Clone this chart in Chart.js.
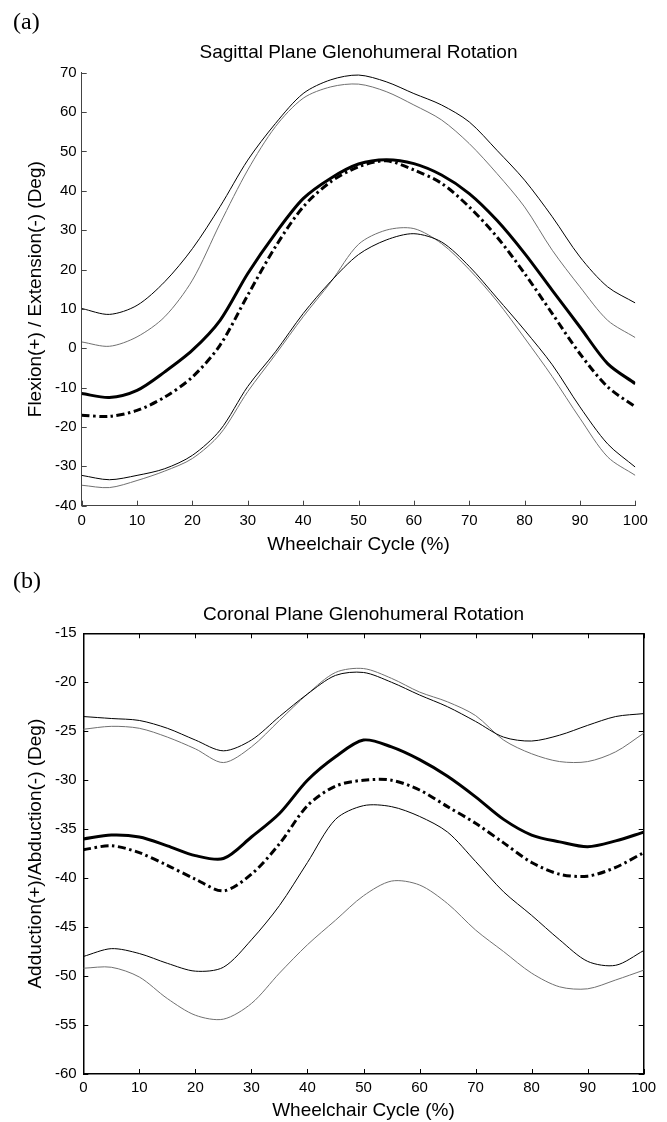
<!DOCTYPE html>
<html>
<head>
<meta charset="utf-8">
<script src="https://cdn.jsdelivr.net/npm/chart.js@4.4.1/dist/chart.umd.min.js"></script>
<style>
  body { margin: 0; background: #fff; }
  #wrap { position: relative; width: 667px; height: 1122px; overflow: hidden; }
  canvas { position: absolute; left: 0; }
  .panel {
    position: absolute; left: 13px;
    font: 24px "Liberation Serif", "Times New Roman", serif;
    line-height: 24px; color: #000;
  }
</style>
</head>
<body>
<div id="wrap">
  <canvas id="sagittal" width="667" height="560" style="top:0"></canvas>
  <canvas id="coronal" width="667" height="562" style="top:560px"></canvas>
  <div class="panel" style="top:9px">(a)</div>
  <div class="panel" style="top:568px">(b)</div>
</div>
<script>
/* ---------- DATA ---------- */
const cycle = [0, 5, 10, 15, 20, 25, 30, 35, 40, 45, 50, 55, 60, 65, 70, 75, 80, 85, 90, 95, 100];
const cycleTicks = [0, 10, 20, 30, 40, 50, 60, 70, 80, 90, 100];

// (a) sagittal plane
const sagTicks = [-40, -30, -20, -10, 0, 10, 20, 30, 40, 50, 60, 70];
const sagUpperBlack = [10.1, 8.6, 10.9, 16.9, 25.3, 36.0, 47.8, 57.1, 64.7, 68.2, 69.4, 67.7, 64.7, 61.8, 57.5, 50.3, 42.7, 33.4, 23.2, 15.6, 11.5];
const sagUpperGray = [1.6, 0.5, 2.9, 8.0, 17.3, 31.7, 45.3, 56.3, 63.5, 66.4, 67.1, 65.2, 61.8, 58.0, 52.0, 44.4, 35.9, 24.9, 15.6, 7.1, 2.7];
const sagMeanSolid = [-11.5, -12.5, -10.7, -6.0, -0.5, 7.1, 19.0, 29.2, 38.0, 43.2, 46.8, 47.9, 46.9, 44.0, 39.3, 32.5, 24.1, 14.7, 5.4, -3.9, -9.0];
const sagMeanDash = [-17.0, -17.3, -15.8, -12.4, -7.3, 0.8, 13.5, 25.8, 35.9, 42.3, 46.1, 47.6, 45.3, 41.9, 35.9, 28.3, 19.0, 8.8, -1.4, -9.8, -14.9];
const sagLowerBlack = [-32.3, -33.4, -32.3, -30.6, -27.2, -20.8, -9.7, -0.9, 8.8, 17.0, 23.8, 27.5, 29.1, 27.0, 20.8, 12.8, 4.6, -4.2, -14.9, -24.3, -30.2];
const sagLowerGray = [-34.8, -35.4, -33.6, -31.2, -28.0, -21.8, -11.0, -1.6, 8.0, 16.8, 26.4, 30.0, 30.4, 26.6, 20.0, 12.0, 2.6, -7.2, -17.8, -27.6, -32.3];

// (b) coronal plane
const corTicks = [-60, -55, -50, -45, -40, -35, -30, -25, -20, -15];
const corUpperBlack = [-23.5, -23.7, -23.9, -24.7, -25.9, -27.0, -25.9, -23.5, -21.2, -19.3, -19.0, -20.0, -21.3, -22.5, -24.0, -25.6, -26.0, -25.4, -24.4, -23.5, -23.2];
const corUpperGray = [-24.8, -24.5, -24.7, -25.6, -26.8, -28.2, -26.6, -23.9, -21.2, -19.0, -18.6, -19.6, -21.0, -22.0, -23.4, -25.9, -27.3, -28.1, -28.1, -27.1, -25.2];
const corMeanSolid = [-36.0, -35.6, -35.8, -36.7, -37.7, -38.0, -35.8, -33.4, -30.0, -27.6, -25.9, -26.6, -27.9, -29.6, -31.7, -34.0, -35.6, -36.3, -36.8, -36.2, -35.3];
const corMeanDash = [-37.1, -36.7, -37.4, -38.7, -40.1, -41.3, -39.6, -36.5, -32.6, -30.6, -30.0, -30.0, -31.0, -32.7, -34.4, -36.4, -38.4, -39.6, -39.8, -38.9, -37.4];
const corLowerBlack = [-48.0, -47.2, -47.7, -48.7, -49.5, -49.1, -46.3, -42.8, -38.4, -34.0, -32.6, -32.7, -33.7, -35.3, -38.3, -41.4, -43.8, -46.3, -48.5, -48.9, -47.4];
const corLowerGray = [-49.2, -49.1, -50.1, -52.3, -54.0, -54.4, -52.8, -49.7, -46.8, -44.3, -41.8, -40.3, -40.7, -42.6, -45.3, -47.5, -49.7, -51.1, -51.3, -50.4, -49.4];

/* ---------- LINE STYLES ---------- */
const THIN_BLACK = { borderColor: "#000", borderWidth: 1 };
const THIN_GRAY = { borderColor: "#707070", borderWidth: 1 };
const THICK = { borderColor: "#000", borderWidth: 3 };
const DASHDOT = { borderColor: "#000", borderWidth: 3, borderDash: [8, 3.5, 2.5, 3.5] };

Chart.defaults.font.family = '"Liberation Sans", Arial, sans-serif';
Chart.defaults.color = "#000";

function lineSet(values, style) {
  return Object.assign({
    data: cycle.map((x, i) => ({ x, y: values[i] })),
    pointRadius: 0,
    fill: false,
    tension: 0.3
  }, style);
}

/* ---------- INWARD TICKS (matlab style) ---------- */
const inwardTicks = {
  id: "inwardTicks",
  afterDraw(chart, args, opts) {
    const ctx = chart.ctx;
    const len = opts.length;
    ctx.save();
    ctx.strokeStyle = opts.color;
    ctx.lineWidth = 1;
    Object.values(chart.scales).forEach(scale => {
      ctx.beginPath();
      scale.ticks.forEach(t => {
        const p = Math.round(scale.getPixelForValue(t.value)) + 0.5;
        if (scale.position === "bottom") { ctx.moveTo(p, scale.top); ctx.lineTo(p, scale.top - len); }
        else if (scale.position === "top") { ctx.moveTo(p, scale.bottom); ctx.lineTo(p, scale.bottom + len); }
        else if (scale.position === "left") { ctx.moveTo(scale.right, p); ctx.lineTo(scale.right + len, p); }
        else if (scale.position === "right") { ctx.moveTo(scale.left, p); ctx.lineTo(scale.left - len, p); }
      });
      ctx.stroke();
    });
    ctx.restore();
  }
};

/* ---------- CHART ---------- */
function makeChart(id, o) {
  const last = a => a[a.length - 1];
  const noGrid = { display: false, drawTicks: false, drawOnChartArea: false };
  const border = { color: o.axisColor, width: o.axisWidth };

  const scales = {
    x: {
      type: "linear", position: "bottom",
      min: cycleTicks[0], max: last(cycleTicks),
      ticks: { stepSize: cycleTicks[1] - cycleTicks[0], padding: o.xTickPad, font: { size: 15 }, maxRotation: 0, autoSkip: false },
      grid: noGrid, border,
      title: { display: true, text: "Wheelchair Cycle (%)", font: { size: 19 }, padding: { top: 0, bottom: o.xTitlePad } },
      afterFit: s => { s.height = o.xAxisHeight; }
    },
    y: {
      type: "linear", position: "left",
      min: o.yTicks[0], max: last(o.yTicks),
      ticks: { stepSize: o.yTicks[1] - o.yTicks[0], padding: o.yTickPad, font: { size: 15 } },
      grid: noGrid, border,
      title: { display: true, text: o.yLabel, font: { size: 19 }, padding: { top: 24.6, bottom: 0 } },
      afterFit: s => { s.width = o.yAxisWidth; }
    }
  };

  // full box on the coronal panel
  if (o.box) {
    scales.x2 = {
      type: "linear", position: "top",
      min: cycleTicks[0], max: last(cycleTicks),
      ticks: { display: false, stepSize: cycleTicks[1] - cycleTicks[0] },
      grid: noGrid, border,
      afterFit: s => { s.height = 0; }
    };
    scales.y2 = {
      type: "linear", position: "right",
      min: o.yTicks[0], max: last(o.yTicks),
      ticks: { display: false, stepSize: o.yTicks[1] - o.yTicks[0] },
      grid: noGrid, border,
      afterFit: s => { s.width = 0; }
    };
  }

  return new Chart(document.getElementById(id), {
    type: "line",
    data: { datasets: o.series.map(s => lineSet(s[0], s[1])) },
    plugins: [inwardTicks],
    options: {
      responsive: false,
      animation: false,
      devicePixelRatio: 1,
      layout: { padding: { left: 0, right: o.padRight, top: 0, bottom: 0 } },
      plugins: {
        legend: { display: false },
        tooltip: { enabled: false },
        inwardTicks: { length: 5, color: o.axisColor },
        title: {
          display: true, text: o.title, fullSize: false,
          font: { size: 19, weight: "normal" },
          padding: { top: o.titleTop, bottom: o.titleBottom }
        }
      },
      scales
    }
  });
}

makeChart("sagittal", {
  title: "Sagittal Plane Glenohumeral Rotation",
  yLabel: "Flexion(+) / Extension(-) (Deg)",
  yTicks: sagTicks,
  box: false,
  axisColor: "#444", axisWidth: 1,
  xAxisHeight: 54.3, xTickPad: 6.3, xTitlePad: 3.6,
  yAxisWidth: 81.7, yTickPad: 5,
  padRight: 31.7, titleTop: 41.6, titleBottom: 8.3,
  series: [
    [sagUpperBlack, THIN_BLACK],
    [sagUpperGray, THIN_GRAY],
    [sagLowerBlack, THIN_BLACK],
    [sagLowerGray, THIN_GRAY],
    [sagMeanDash, DASHDOT],
    [sagMeanSolid, THICK]
  ]
});

makeChart("coronal", {
  title: "Coronal Plane Glenohumeral Rotation",
  yLabel: "Adduction(+)/Abduction(-) (Deg)",
  yTicks: corTicks,
  box: true,
  axisColor: "#000", axisWidth: 1.5,
  xAxisHeight: 48, xTickPad: 5, xTitlePad: 0,
  yAxisWidth: 83.3, yTickPad: 6.6,
  padRight: 23.3, titleTop: 43.6, titleBottom: 6.9,
  series: [
    [corUpperBlack, THIN_BLACK],
    [corUpperGray, THIN_GRAY],
    [corLowerBlack, THIN_BLACK],
    [corLowerGray, THIN_GRAY],
    [corMeanDash, DASHDOT],
    [corMeanSolid, THICK]
  ]
});
</script>
</body>
</html>
